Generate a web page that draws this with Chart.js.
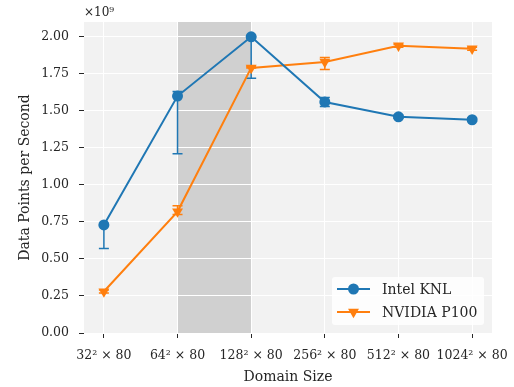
<!DOCTYPE html>
<html>
<head>
<meta charset="utf-8">
<script src="https://cdn.jsdelivr.net/npm/chart.js@4/dist/chart.umd.min.js"></script>
<style>
  body { margin: 0; background: #fff; }
  #grafico { display: block; }
</style>
</head>
<body>
<canvas id="grafico" width="514" height="387"></canvas>
<script>
// tamanhos de dominio no eixo x
const tamanhos = ['32² × 80', '64² × 80', '128² × 80', '256² × 80', '512² × 80', '1024² × 80'];
const ticksY = [0, 0.25, 0.5, 0.75, 1.0, 1.25, 1.5, 1.75, 2.0];

// valores em unidades de 1e9 pontos por segundo
const knl = [0.73, 1.60, 2.00, 1.56, 1.46, 1.44];
const knlMin = [0.57, 1.21, 1.72, 1.53, 1.45, 1.43];
const knlMax = [0.73, 1.63, 2.00, 1.59, 1.47, 1.45];

const p100 = [0.28, 0.82, 1.79, 1.83, 1.94, 1.92];
const p100Min = [0.27, 0.80, 1.79, 1.78, 1.93, 1.91];
const p100Max = [0.29, 0.86, 1.80, 1.86, 1.95, 1.93];

const azul = '#1f77b4';
const laranja = '#ff7f0e';
const corTexto = '#262626';
const fonte = 'DejaVu Serif';

const pontos = (valores) => valores.map((v, i) => ({ x: i, y: v }));

// fundo cinza e faixa destacada entre 64² e 128²
const fundo = {
  id: 'fundo',
  beforeDraw(chart) {
    const { ctx, chartArea, scales } = chart;
    ctx.save();
    ctx.fillStyle = '#f2f2f2';
    ctx.fillRect(chartArea.left, chartArea.top, chartArea.width, chartArea.height);
    const x1 = scales.x.getPixelForValue(1);
    const x2 = scales.x.getPixelForValue(2);
    ctx.fillStyle = '#d0d0d0';
    ctx.fillRect(x1, chartArea.top, x2 - x1, chartArea.height);
    ctx.restore();
  }
};

// barras de erro (minimo / maximo)
const barrasErro = {
  id: 'barrasErro',
  beforeDatasetsDraw(chart) {
    const { ctx, scales } = chart;
    const series = [[knlMin, knlMax, azul], [p100Min, p100Max, laranja]];
    ctx.save();
    ctx.lineWidth = 1.5;
    series.forEach(([baixo, alto, cor]) => {
      ctx.strokeStyle = cor;
      baixo.forEach((b, i) => {
        const x = scales.x.getPixelForValue(i);
        const yb = scales.y.getPixelForValue(b);
        const ya = scales.y.getPixelForValue(alto[i]);
        ctx.beginPath();
        ctx.moveTo(x, yb); ctx.lineTo(x, ya);
        ctx.moveTo(x - 5, yb); ctx.lineTo(x + 5, yb);
        ctx.moveTo(x - 5, ya); ctx.lineTo(x + 5, ya);
        ctx.stroke();
      });
    });
    ctx.restore();
  }
};

function marcador(ctx, tipo, x, y, cor) {
  ctx.fillStyle = cor;
  ctx.beginPath();
  if (tipo === 'circle') {
    ctx.arc(x, y, 5.5, 0, Math.PI * 2);
  } else {
    const r = 6.3;
    ctx.moveTo(x, y + r);
    ctx.lineTo(x - r * Math.sqrt(3) / 2, y - r / 2);
    ctx.lineTo(x + r * Math.sqrt(3) / 2, y - r / 2);
    ctx.closePath();
  }
  ctx.fill();
}

// legenda dentro do grafico e o fator x10^9
const legenda = {
  id: 'legenda',
  afterDraw(chart) {
    const { ctx, chartArea } = chart;
    ctx.save();
    const w = 152, h = 48;
    const bx = chartArea.right - 8 - w;
    const by = chartArea.bottom - 8 - h;
    ctx.fillStyle = 'rgba(255,255,255,0.85)';
    ctx.beginPath();
    ctx.roundRect(bx, by, w, h, 3);
    ctx.fill();

    const itens = [['Intel KNL', azul, 'circle'], ['NVIDIA P100', laranja, 'triangle']];
    itens.forEach(([nome, cor, tipo], i) => {
      const y = by + 12 + i * 23;
      ctx.strokeStyle = cor;
      ctx.lineWidth = 2;
      ctx.beginPath();
      ctx.moveTo(bx + 5, y); ctx.lineTo(bx + 38, y);
      ctx.stroke();
      marcador(ctx, tipo, bx + 21.5, y, cor);
      ctx.fillStyle = corTexto;
      ctx.font = '14px "' + fonte + '"';
      ctx.textBaseline = 'middle';
      ctx.fillText(nome, bx + 50, y + 1);
    });

    ctx.font = '12px "' + fonte + '"';
    ctx.textBaseline = 'middle';
    ctx.fillText('×10⁹', chartArea.left, 13);
    ctx.restore();
  }
};

new Chart(document.getElementById('grafico'), {
  type: 'line',
  data: {
    datasets: [
      {
        label: 'Intel KNL',
        data: pontos(knl),
        borderColor: azul,
        backgroundColor: azul,
        borderWidth: 2,
        pointStyle: 'circle',
        pointRadius: 5.5,
        pointBorderWidth: 0,
        tension: 0
      },
      {
        label: 'NVIDIA P100',
        data: pontos(p100),
        borderColor: laranja,
        backgroundColor: laranja,
        borderWidth: 2,
        pointStyle: 'triangle',
        pointRotation: 180,
        pointRadius: 6.3,
        pointBorderWidth: 0,
        tension: 0
      }
    ]
  },
  options: {
    responsive: false,
    animation: false,
    devicePixelRatio: 1,
    layout: { padding: { top: 22, right: 22, left: 0, bottom: 0 } },
    plugins: { legend: { display: false }, tooltip: { enabled: false } },
    scales: {
      x: {
        type: 'linear',
        min: -0.27,
        max: 5.27,
        afterBuildTicks: (eixo) => { eixo.ticks = tamanhos.map((t, i) => ({ value: i })); },
        afterFit: (eixo) => {
          eixo.height = 54;
          // o rotulo 1024² pode passar da area do grafico
          eixo.paddingLeft = 0;
          eixo.paddingRight = 0;
        },
        ticks: {
          callback: (v) => tamanhos[v],
          color: corTexto,
          font: { family: fonte, size: 12.5 },
          padding: 10,
          maxRotation: 0,
          autoSkip: false
        },
        grid: { color: '#ffffff', lineWidth: 1, tickColor: corTexto, tickLength: 5 },
        border: { display: false },
        title: {
          display: true,
          text: 'Domain Size',
          color: corTexto,
          font: { family: fonte, size: 14 },
          padding: { top: 1, bottom: 1 }
        }
      },
      y: {
        min: 0,
        max: 2.1,
        afterBuildTicks: (eixo) => { eixo.ticks = ticksY.map((v) => ({ value: v })); },
        afterFit: (eixo) => { eixo.width = 84; },
        ticks: {
          callback: (v) => v.toFixed(2),
          color: corTexto,
          font: { family: fonte, size: 12.5 },
          padding: 10
        },
        grid: { color: '#ffffff', lineWidth: 1, tickColor: corTexto, tickLength: 5 },
        border: { display: false },
        title: {
          display: true,
          text: 'Data Points per Second',
          color: corTexto,
          font: { family: fonte, size: 14 },
          padding: { top: 17, bottom: 17 }
        }
      }
    }
  },
  plugins: [fundo, barrasErro, legenda]
});
</script>
</body>
</html>
